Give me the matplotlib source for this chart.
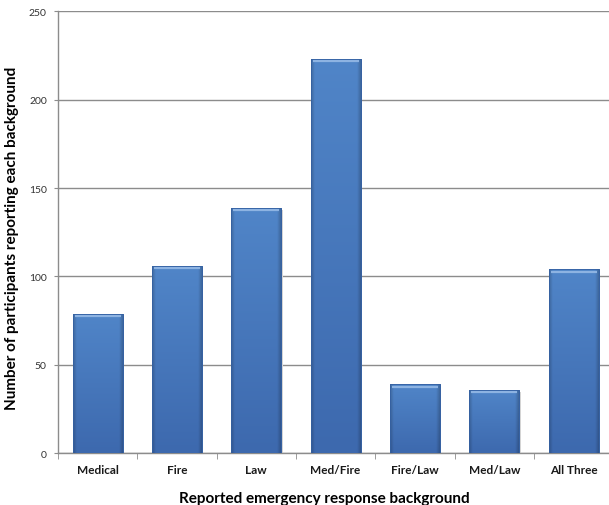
import numpy as np
import matplotlib as mpl
mpl.use('Agg')
import matplotlib.pyplot as plt
from matplotlib.patches import Rectangle
from matplotlib.colors import to_rgb

categories = ["Medical", "Fire", "Law", "Med/Fire", "Fire/Law", "Med/Law", "All Three"]
counts = [79, 106, 139, 223, 39, 36, 104]

y_ticks = [0, 50, 100, 150, 200, 250]

plt.rcParams['font.family'] = ['Lato', 'DejaVu Sans']

fig = plt.figure(figsize=(6.09, 5.06), dpi=100)
ax = fig.add_axes([0.095, 0.102, 0.912, 0.874])

x = np.arange(len(categories))
width = 0.63
bars = ax.bar(x, counts, width=width, color='#4a7dc0', edgecolor='#3561a2',
              linewidth=0.6, zorder=3)

# shaded fill for each bar: lighter centre, darker sides and bottom
top_c = np.array(to_rgb('#5085c8'))
bot_c = np.array(to_rgb('#3d69ae'))
nx, ny = 60, 100
u = np.linspace(0, 1, nx)
v = np.linspace(0, 1, ny)[:, None]
side = 1 - 0.2 * np.clip(1 - np.minimum(u, 1 - u) / 0.07, 0, 1)
img = (top_c * (1 - v[..., None]) + bot_c * v[..., None]) * side[None, :, None]
img = np.clip(img, 0, 1)

for b in bars:
    x0, w, h = b.get_x(), b.get_width(), b.get_height()
    im = ax.imshow(img, extent=(x0, x0 + w, 0, h), aspect='auto',
                   interpolation='bilinear', zorder=3.5)
    im.set_clip_path(b)
    # light bevel along the top
    ax.plot([x0 + w * 0.04, x0 + w * 0.96], [h - 1.3, h - 1.3],
            color='#8db3e2', lw=1.6, solid_capstyle='butt', zorder=4)
    ax.add_patch(Rectangle((x0, 0), w, h, fill=False, edgecolor='#3561a2',
                           lw=0.6, zorder=4.5))
    # faint shadow on the right
    ax.add_patch(Rectangle((x0 + w, 0), 0.02, h - 1.5, color='#d4d4d4',
                           lw=0, zorder=2.5))

ax.set_xlim(-0.5, len(categories) - 0.5)
ax.set_ylim(0, 250)
ax.set_yticks(y_ticks)
ax.yaxis.grid(True, color='#8c8c8c', linewidth=1.0, zorder=0)
ax.set_axisbelow(True)

ax.set_xticks(x)
ax.set_xticklabels(categories, fontsize=8.5, fontweight='bold', color='#1a1a1a')
ax.set_xticks(np.arange(len(categories) + 1) - 0.5, minor=True)
ax.tick_params(axis='x', which='major', length=0, pad=8)
ax.tick_params(axis='x', which='minor', length=4, color='#8c8c8c', direction='out')
ax.tick_params(axis='y', length=3, color='#8c8c8c', labelsize=7.5,
               labelcolor='#333333', pad=5)

for s in ['top', 'right']:
    ax.spines[s].set_visible(False)
for s in ['left', 'bottom']:
    ax.spines[s].set_color('#8c8c8c')
    ax.spines[s].set_linewidth(1.0)

ax.set_xlabel("Reported emergency response background", fontsize=11,
              fontweight='bold')
ax.xaxis.set_label_coords(0.479, -0.085)
ax.set_ylabel("Number of participants reporting each background", fontsize=11,
              fontweight='bold')
ax.yaxis.set_label_coords(-0.07, 0.488)

plt.savefig("out.png", dpi=100)
